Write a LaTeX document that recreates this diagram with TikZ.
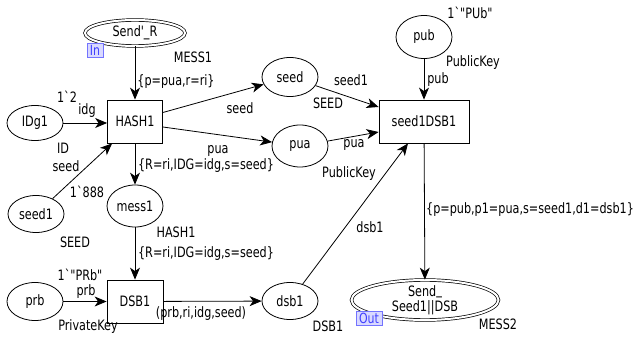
\documentclass[tikz,border=0pt]{standalone}
\usepackage{fontspec}
\newfontfamily\cpn{DejaVu Sans}[FakeStretch=0.785]
\usetikzlibrary{arrows.meta,shapes.geometric,calc}
\begin{document}
\begin{tikzpicture}[x=1pt,y=-1pt,
  every node/.style={font=\cpn\fontsize{14.3}{16}\selectfont, inner sep=0pt},
  place/.style={ellipse, draw, line width=0.8pt, minimum width=56pt, minimum height=38pt},
  iface/.style={place, double, double distance=2pt, line width=0.7pt},
  trans/.style={rectangle, draw, line width=0.8pt, minimum width=55pt, minimum height=43pt},
  arc/.style={draw, line width=0.8pt, -{Stealth[length=12pt,width=10pt,inset=3.5pt]}},
  porttag/.style={draw=blue!55, fill=blue!15, text=blue!75, font=\cpn\fontsize{14}{14}\selectfont,
    inner xsep=1pt, inner ysep=0pt, minimum height=13.5pt}]

\useasboundingbox (0,0) rectangle (633,337);

% places and transitions
\node[iface, minimum width=100pt, minimum height=26pt] (sendR) at (135,33) {Send'\_R};
\node[trans] (hash1) at (135,121.5) {HASH1};
\node[place, minimum height=35pt] (idg1) at (35,123) {IDg1};
\node[place, minimum height=37pt] (seed1) at (36,214) {seed1};
\node[place, minimum height=39pt] (seed) at (290,77) {seed};
\node[place, minimum height=42pt] (pua) at (300,146) {pua};
\node[place, minimum height=42pt] (mess1) at (135,206) {mess1};
\node[trans, minimum width=56pt] (dsb1t) at (135,301.5) {DSB1};
\node[place, minimum height=38pt] (prb) at (35,301.5) {prb};
\node[place, minimum height=37pt] (dsb1) at (290,301) {dsb1};
\node[trans, minimum width=90pt] (s1d) at (424,121.5) {seed1DSB1};
\node[place, minimum height=43pt] (pub) at (424,37) {pub};
\node[iface, minimum width=147pt, minimum height=40pt] (sendOut) at (425,300) {};
\node[align=center, font=\cpn\fontsize{14.3}{15.5}\selectfont] (sendOutText) at (425,300.5)
  {Send\raisebox{1.5pt}{\_}\\Seed1||DSB};

% arcs
\draw[arc] (sendR) -- (hash1);
\draw[arc] (idg1) -- (idg1 -| hash1.west);
\draw[arc] (seed1) -- ($(hash1.south west)+(5,0)$);
\draw[arc] ($(hash1.east)+(0,-9)$) -- (seed);
\draw[arc] ($(hash1.east)+(0,5.5)$) -- (pua);
\draw[arc] (hash1) -- (mess1);
\draw[arc] (mess1) -- (dsb1t);
\draw[arc] (prb) -- (prb -| dsb1t.west);
\draw[arc] (dsb1t) -- (dsb1);
\draw[arc] (seed) -- ($(s1d.west)+(0,-14.5)$);
\draw[arc] (pua) -- ($(s1d.west)+(0,10.5)$);
\draw[arc] (dsb1) -- ($(s1d.south)+(-16,0)$);
\draw[arc] (pub) -- (s1d);
\draw[arc] (s1d) -- (sendOut);

% port tags
\node[porttag, minimum width=16pt] (intag) at (95,50) {In};
\node[porttag, minimum width=26pt] (outtag) at (369,318) {Out};

% colour sets, initial markings and inscriptions
\node (tMESS1) at (193,57) {MESS1};
\node (aSendR) at (176,82) {\{p=pua,r=ri\}};
\node (mIDg1) at (67,97) {1`2};
\node (aIDg1) at (87,111) {idg};
\node (tIDg1) at (63,148) {ID};
\node (aSeed1) at (66,166) {seed};
\node (aSeed) at (240,108) {seed};
\node (aPua) at (218,151) {pua};
\node (aMess1in) at (206,166) {\{R=ri,IDG=idg,s=seed\}};
\node (mSeed1) at (87,192) {1`888};
\node (tSeed1) at (75,242) {SEED};
\node (tMess1) at (176,232) {HASH1};
\node (aMess1out) at (206,254) {\{R=ri,IDG=idg,s=seed\}};
\node (mPrb) at (80,275) {1`"PRb"};
\node (aPrb) at (86,292) {prb};
\node (tPrb) at (88,327) {PrivateKey};
\node (aDsb1in) at (201,314) {(prb,ri,idg,seed)};
\node (tDsb1) at (328,326) {DSB1};
\node (mPub) at (470,13) {1`"PUb"};
\node (tPub) at (473,63) {PublicKey};
\node (aPub) at (438,80) {pub};
\node (aSeedOut) at (351,80) {seed1};
\node (tSeed) at (328,103) {SEED};
\node (aPuaOut) at (354,145) {pua};
\node (tPua) at (349,174) {PublicKey};
\node (aDsb1Out) at (370,227) {dsb1};
\node (aSendOut) at (530,210) {\{p=pub,p1=pua,s=seed1,d1=dsb1\}};
\node (tSendOut) at (498,324) {MESS2};
\end{tikzpicture}
\end{document}
